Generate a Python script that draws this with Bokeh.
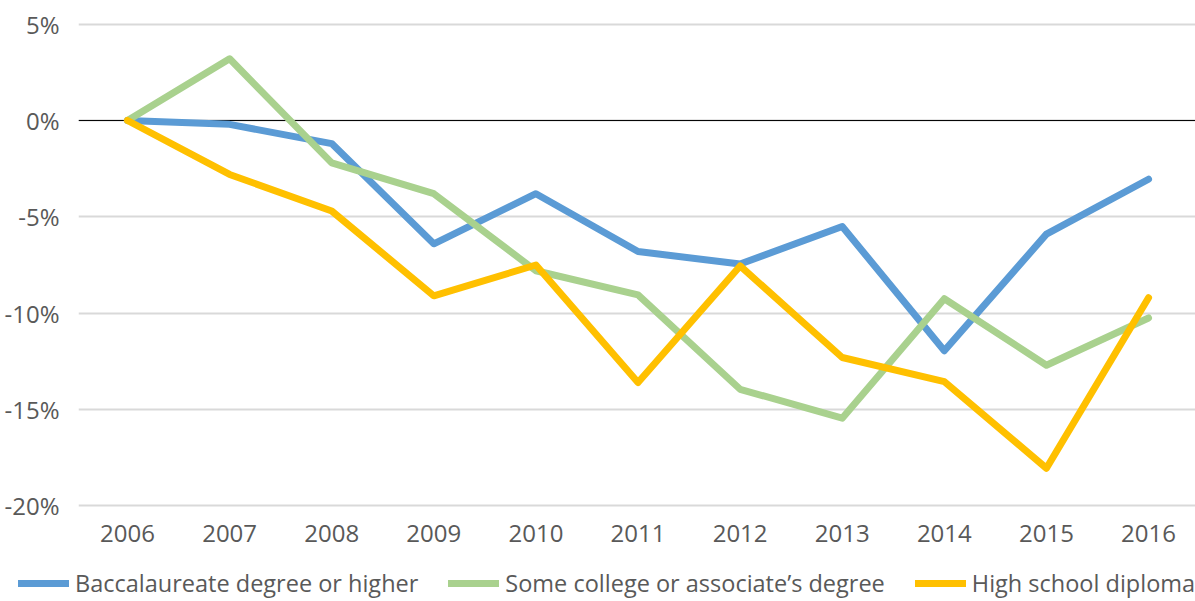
from bokeh.plotting import figure
from bokeh.layouts import column
from bokeh.models import Range1d, FixedTicker, PrintfTickFormatter, Span, Legend, LegendItem, ColumnDataSource
from bokeh.embed import file_html
from bokeh.resources import INLINE

years = [2006, 2007, 2008, 2009, 2010, 2011, 2012, 2013, 2014, 2015, 2016]
baccalaureate = [0, -0.2, -1.2, -6.4, -3.8, -6.8, -7.45, -5.5, -11.95, -5.9, -3.05]
some_college = [0, 3.2, -2.2, -3.8, -7.8, -9.05, -13.95, -15.45, -9.25, -12.7, -10.25]
high_school = [0, -2.8, -4.7, -9.1, -7.5, -13.6, -7.55, -12.3, -13.55, -18.05, -9.2]
series_names = ["Baccalaureate degree or higher", "Some college or associate\u2019s degree", "High school diploma"]
y_ticks = [-20, -15, -10, -5, 0, 5]

colors = ["#5B9BD5", "#A9D18E", "#FFC000"]
FONT = "Open Sans"
TXT = "#595959"
series = [baccalaureate, some_college, high_school]

p = figure(width=1195, height=556, output_backend="svg", toolbar_location=None,
           x_range=Range1d(2005.52, 2016.46), y_range=Range1d(-20.5, 5.5),
           min_border_left=78, min_border_right=0, min_border_top=14, min_border_bottom=41)
p.frame_align = False
p.outline_line_color = None
p.background_fill_color = "white"
p.border_fill_color = "white"

p.xgrid.grid_line_color = None
p.ygrid.grid_line_color = "#D9D9D9"
p.ygrid.grid_line_width = 2
p.yaxis.ticker = FixedTicker(ticks=y_ticks)
p.xaxis.ticker = FixedTicker(ticks=years)
p.yaxis.formatter = PrintfTickFormatter(format="%d%%")

for ax in (p.xaxis, p.yaxis):
    ax.axis_line_color = None
    ax.major_tick_line_color = None
    ax.minor_tick_line_color = None
    ax.major_label_text_font = FONT
    ax.major_label_text_font_size = "24px"
    ax.major_label_text_color = TXT
p.yaxis.major_label_standoff = 13
p.xaxis.major_label_standoff = 3

zero = Span(location=0, dimension="width", line_color="black", line_width=1, level="underlay")
p.add_layout(zero)

for name, vals, c in zip(series_names, series, colors):
    src = ColumnDataSource(dict(x=years, y=vals))
    p.line("x", "y", source=src, line_color=c, line_width=7, line_cap="round", line_join="round")

# legend strip below the chart (its lines lie outside this strip's ranges; only the legend shows)
pl = figure(width=1195, height=44, output_backend="svg", toolbar_location=None,
            x_range=Range1d(0, 1), y_range=Range1d(0, 1),
            min_border_left=0, min_border_right=0, min_border_top=0, min_border_bottom=0)
pl.frame_align = False
pl.axis.visible = False
pl.grid.visible = False
pl.outline_line_color = None

items = []
for name, vals, c in zip(series_names, series, colors):
    r = pl.line(x=years, y=vals, line_color=c, line_width=7, line_cap="round", line_join="round")
    items.append(LegendItem(label=name, renderers=[r]))

legend = Legend(items=items, orientation="horizontal", location=(18, 1),
                glyph_width=51, glyph_height=12, label_height=12, label_standoff=6,
                spacing=30, padding=0, margin=0, border_line_color=None,
                background_fill_alpha=0,
                label_text_font=FONT, label_text_font_size="23.5px", label_text_color=TXT)
pl.add_layout(legend, "center")

layout = column(p, pl, spacing=0)
open("out.html", "w").write(file_html(layout, INLINE))
